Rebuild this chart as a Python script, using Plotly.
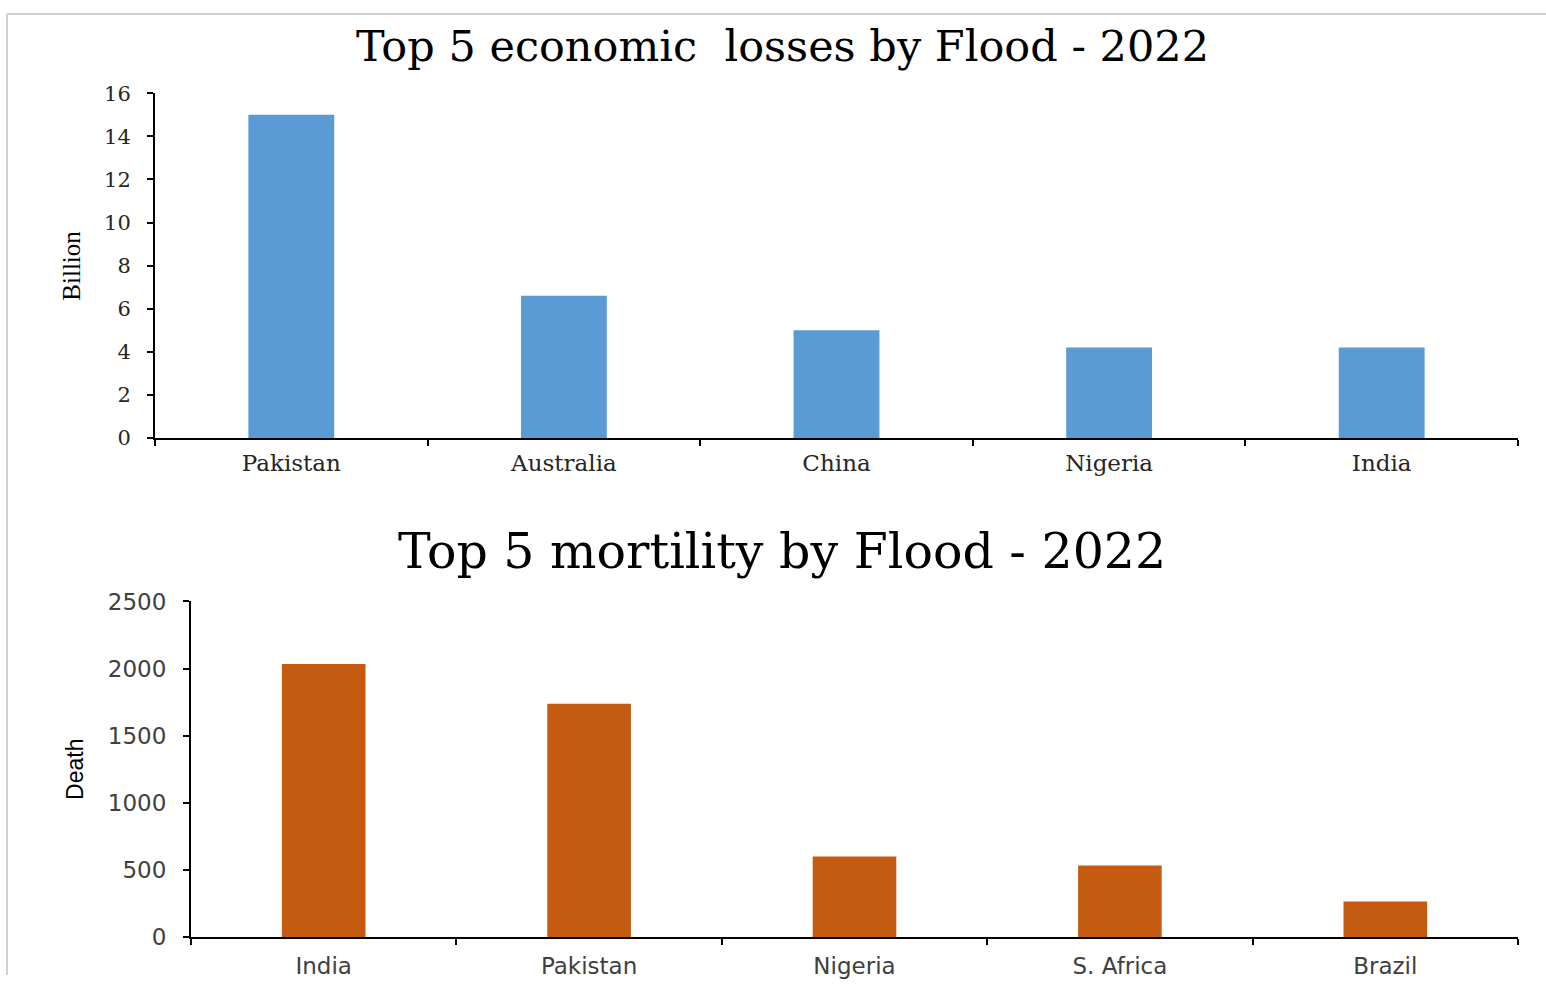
import plotly.graph_objects as go

W, H = 1546, 988
# the photographed page maps figure pixel y to about 0.977*y + 11.5; compensate
SCALE_Y, OFF_Y = 0.977, 11.5

# Data
loss_countries = ["Pakistan", "Australia", "China", "Nigeria", "India"]
loss_values = [15.0, 6.6, 5.0, 4.2, 4.2]
loss_ticks = [0, 2, 4, 6, 8, 10, 12, 14, 16]

death_countries = ["India", "Pakistan", "Nigeria", "S. Africa", "Brazil"]
death_values = [2035, 1739, 601, 535, 267]
death_ticks = [0, 500, 1000, 1500, 2000, 2500]


def px_x(x):
    return x / W


def px_y(y):
    yf = (y - OFF_Y) / SCALE_Y
    return min(1.0, max(0.0, 1 - yf / H))


fig = go.Figure()
fig.add_trace(go.Bar(x=loss_countries, y=loss_values, marker_color="#5B9BD5",
                     marker_line_width=0, xaxis="x", yaxis="y"))
fig.add_trace(go.Bar(x=death_countries, y=death_values, marker_color="#C55A11",
                     marker_line_width=0, xaxis="x2", yaxis="y2"))

serif = "DejaVu Serif, Liberation Serif, serif"
sans = "DejaVu Sans, Verdana, sans-serif"

axis_common = dict(showline=True, linecolor="black", linewidth=2, ticks="outside",
                   ticklen=6, tickwidth=2, tickcolor="black", showgrid=False,
                   zeroline=False, fixedrange=True)

fig.update_layout(
    width=W, height=H,
    margin=dict(l=0, r=0, t=0, b=0),
    paper_bgcolor="white", plot_bgcolor="white",
    showlegend=False,
    bargap=0.685,
    xaxis=dict(domain=[px_x(155), px_x(1518)], anchor="y", tickson="boundaries",
               ticklabelstandoff=3,
               tickfont=dict(family=serif, size=23, color="#262626"),
               **axis_common),
    yaxis=dict(domain=[px_y(438), px_y(92)], anchor="x", range=[0, 16],
               tickvals=loss_ticks, ticklabelstandoff=12,
               tickfont=dict(family=serif, size=21, color="#262626"),
               **axis_common),
    xaxis2=dict(domain=[px_x(191), px_x(1518)], anchor="y2", tickson="boundaries",
                ticklabelstandoff=7,
                tickfont=dict(family=sans, size=23, color="#404040"),
                **axis_common),
    yaxis2=dict(domain=[px_y(939), px_y(602)], anchor="x2", range=[0, 2500],
                tickvals=death_ticks, ticklabelstandoff=12,
                tickfont=dict(family=sans, size=23, color="#404040"),
                **axis_common),
)

annotations = [
    dict(text="Top 5 economic&nbsp; losses by Flood - 2022", x=px_x(782), y=px_y(45),
         font=dict(family=serif, size=43, color="black")),
    dict(text="Top 5 mortility by Flood - 2022", x=px_x(782), y=px_y(552),
         font=dict(family=serif, size=49, color="black")),
    dict(text="Billion", x=px_x(72), y=px_y(265), textangle=-90,
         font=dict(family="Liberation Serif, serif", size=25, color="black")),
    dict(text="Death", x=px_x(75), y=px_y(771), textangle=-90,
         font=dict(family="Liberation Sans Narrow, Liberation Sans, sans-serif", size=23, color="black")),
]
for a in annotations:
    a.update(xref="paper", yref="paper", showarrow=False, xanchor="center", yanchor="middle")
fig.update_layout(annotations=annotations)

# light gray frame around the picture
fig.add_shape(type="line", xref="paper", yref="paper", x0=px_x(7), x1=1, y0=0.999, y1=0.999,
              line=dict(color="#d0d0d0", width=2))
fig.add_shape(type="line", xref="paper", yref="paper", x0=px_x(7), x1=px_x(7), y0=0, y1=0.999,
              line=dict(color="#d0d0d0", width=2))

fig.write_html(
    "out.html",
    config={"displayModeBar": False},
    post_script="document.body.style.margin='0';document.documentElement.style.margin='0';"
                "document.body.style.overflow='hidden';",
)
